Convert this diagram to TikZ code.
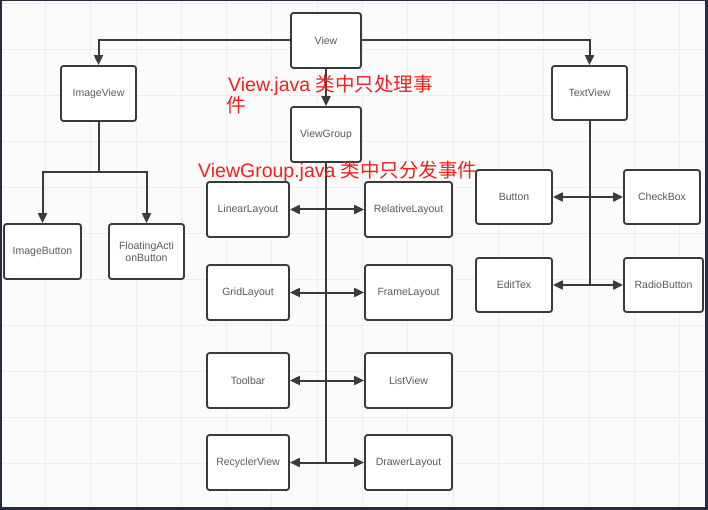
\documentclass[tikz,border=0pt]{standalone}
\usepackage{fontspec}
\setmainfont{Liberation Sans}
\newfontfamily\cjk{Noto Sans CJK SC}
\usetikzlibrary{arrows.meta}
\definecolor{linec}{HTML}{3A3A3A}
\definecolor{boxtext}{HTML}{5A5A5A}
\definecolor{gridc}{HTML}{EEEEF0}
\definecolor{framec}{HTML}{262A3A}
\definecolor{redtext}{RGB}{242,32,32}
\tikzset{
  box/.style={draw=linec, line width=1.8pt, rounded corners=2.5pt, fill=white,
    inner sep=0pt, minimum height=55pt, text=boxtext, font=\fontsize{10.5}{12.5}\selectfont, align=center},
  conn/.style={draw=linec, line width=2pt},
  arr/.style={conn, -{Triangle[length=10pt,width=9pt]}},
  darr/.style={conn, {Triangle[length=10pt,width=9pt]}-{Triangle[length=10pt,width=9pt]}},
  note/.style={text=redtext, inner sep=0pt, font=\fontsize{19.5}{21}\selectfont}
}
\begin{document}
\begin{tikzpicture}[x=1pt,y=-1pt]
\useasboundingbox (0,0) rectangle (708,510);
\fill[white!97!gray] (0,0) rectangle (708,510);
\foreach \i in {0,...,15} { \draw[gridc, line width=0.8pt] ({\i*45.3},0) -- ({\i*45.3},510); }
\foreach \j in {0,...,11} { \draw[gridc, line width=0.8pt] (0,{3+\j*46}) -- (708,{3+\j*46}); }
% frame
\fill[framec] (0,0) rectangle (2,510);
\fill[framec] (0,0) rectangle (708,1.2);
\fill[framec] (704.5,0) rectangle (708,510);
\fill[framec] (0,506.5) rectangle (708,510);

% nodes
\node[box, minimum width=70pt] (view) at (326,40.5) {View};
\node[box, minimum width=75pt] (imageview) at (98.5,93.5) {ImageView};
\node[box, minimum width=75pt, minimum height=54pt] (textview) at (589.5,93) {TextView};
\node[box, minimum width=70pt] (viewgroup) at (326,134.5) {ViewGroup};
\node[box, minimum width=77pt] (imagebutton) at (42.5,251.5) {ImageButton};
\node[box, minimum width=75pt] (fab) at (146.5,251.5) {FloatingActi\\onButton};

\node[box, minimum width=82pt] (linear) at (248,209.5) {LinearLayout};
\node[box, minimum width=82pt] (grid) at (248,292.5) {GridLayout};
\node[box, minimum width=82pt] (toolbar) at (248,380.5) {Toolbar};
\node[box, minimum width=82pt] (recycler) at (248,462.5) {RecyclerView};
\node[box, minimum width=87pt] (relative) at (408.5,209.5) {RelativeLayout};
\node[box, minimum width=87pt] (frame) at (408.5,292.5) {FrameLayout};
\node[box, minimum width=87pt] (listview) at (408.5,380.5) {ListView};
\node[box, minimum width=87pt] (drawer) at (408.5,462.5) {DrawerLayout};

\node[box, minimum width=76pt, minimum height=54pt] (button) at (514,197) {Button};
\node[box, minimum width=76pt, minimum height=54pt] (checkbox) at (662,197) {CheckBox};
\node[box, minimum width=76pt, minimum height=54pt] (edittex) at (514,285) {EditTex};
\node[box, minimum width=79pt, minimum height=54pt] (radio) at (663.5,285) {RadioButton};

% connectors
\draw[arr] (view.west) -| (imageview.north);
\draw[arr] (view.east) -| (textview.north);
\draw[arr] (view.south) -- (viewgroup.north);

\coordinate (ivj) at (98.5,172);
\draw[conn] (imageview.south) -- (ivj);
\draw[arr] (ivj) -| (imagebutton.north);
\draw[arr] (ivj) -| (fab.north);

\coordinate (vgend) at (326,462.5);
\draw[conn] (viewgroup.south) -- (vgend);
\draw[darr] (linear.east) -- (relative.west);
\draw[darr] (grid.east) -- (frame.west);
\draw[darr] (toolbar.east) -- (listview.west);
\draw[darr] (recycler.east) -- (drawer.west);

\coordinate (tvend) at (589.5,285);
\draw[conn] (textview.south) -- (tvend);
\draw[darr] (button.east) -- (checkbox.west);
\draw[darr] (edittex.east) -- (radio.west);

% red notes
\node[note, anchor=base west] (n1a) at (228,92) {View.java {\cjk 类中只处理事}};
\node[note, anchor=base west] (n1b) at (226,113) {\cjk 件};
\node[note, anchor=base west] (n2) at (198,178) {ViewGroup.java {\cjk 类中只分发事件}};
\end{tikzpicture}
\end{document}
